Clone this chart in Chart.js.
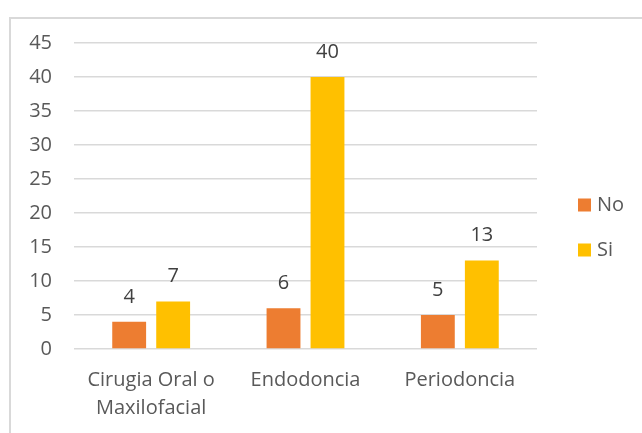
<!DOCTYPE html>
<html>
<head>
<meta charset="utf-8">
<script src="https://cdn.jsdelivr.net/npm/chart.js@4.4.1/dist/chart.umd.min.js"></script>
<style>
  html, body { margin: 0; padding: 0; background: #fff; }
  #wrap { position: relative; width: 642px; height: 433px; }
</style>
</head>
<body>
<div id="wrap"><canvas id="c" width="642" height="433"></canvas></div>
<script>
// Categories, series and axis ticks
const categories = [["Cirugia Oral o", "Maxilofacial"], "Endodoncia", "Periodoncia"];
const seriesNo = [4, 6, 5];
const seriesSi = [7, 40, 13];
const yTicks = [0, 5, 10, 15, 20, 25, 30, 35, 40, 45];

const FONT = "'Open Sans', Lato, sans-serif";
const SIZE = 20;
const TEXT = '#595959';
const GRID = '#d9d9d9';

// Light frame around the whole chart
const framePlugin = {
  id: 'frame',
  beforeDraw(chart) {
    const ctx = chart.ctx;
    ctx.save();
    ctx.fillStyle = '#fff';
    ctx.fillRect(0, 0, chart.width, chart.height);
    ctx.strokeStyle = GRID;
    ctx.lineWidth = 2;
    ctx.strokeRect(10, 18, chart.width + 20, chart.height + 20);
    ctx.restore();
  }
};

// Value labels above each bar
const valueLabels = {
  id: 'valueLabels',
  afterDatasetsDraw(chart) {
    const ctx = chart.ctx;
    ctx.save();
    ctx.font = `${SIZE}px ${FONT}`;
    ctx.fillStyle = '#404040';
    ctx.textAlign = 'center';
    ctx.textBaseline = 'middle';
    chart.data.datasets.forEach((ds, i) => {
      chart.getDatasetMeta(i).data.forEach((bar, j) => {
        ctx.fillText(String(ds.data[j]), bar.x, bar.y - 25);
      });
    });
    ctx.restore();
  }
};

// Legend on the right, stacked vertically
const sideLegend = {
  id: 'sideLegend',
  afterDraw(chart) {
    const ctx = chart.ctx;
    const x = 578, ys = [205, 250], box = 13;
    ctx.save();
    ctx.font = `${SIZE}px ${FONT}`;
    ctx.textBaseline = 'middle';
    chart.data.datasets.forEach((ds, i) => {
      ctx.fillStyle = ds.backgroundColor;
      ctx.fillRect(x, ys[i] - box / 2, box, box);
      ctx.fillStyle = TEXT;
      ctx.fillText(ds.label, x + box + 6, ys[i]);
    });
    ctx.restore();
  }
};

new Chart(document.getElementById('c'), {
  type: 'bar',
  data: {
    labels: categories,
    datasets: [
      { label: 'No', data: seriesNo, backgroundColor: '#ED7D31' },
      { label: 'Si', data: seriesSi, backgroundColor: '#FFC000' }
    ]
  },
  options: {
    responsive: false,
    animation: false,
    layout: { padding: { left: 0, right: 105, top: 43, bottom: 0 } },
    datasets: { bar: { categoryPercentage: 0.57, barPercentage: 0.77 } },
    plugins: { legend: { display: false }, tooltip: { enabled: false } },
    scales: {
      x: {
        grid: { display: false, drawTicks: false },
        border: { display: false },
        ticks: {
          color: TEXT,
          font: { family: FONT, size: SIZE, lineHeight: 1.4 },
          padding: 17,
          maxRotation: 0,
          autoSkip: false
        },
        afterFit(axis) { axis.height = 84; }
      },
      y: {
        min: 0,
        max: 45,
        afterBuildTicks(axis) { axis.ticks = yTicks.map(v => ({ value: v })); },
        grid: { color: GRID, lineWidth: 1.5, drawTicks: false },
        border: { display: false },
        ticks: {
          color: TEXT,
          font: { family: FONT, size: SIZE },
          padding: 22
        },
        afterFit(axis) { axis.width = 74; }
      }
    }
  },
  plugins: [framePlugin, valueLabels, sideLegend]
});
</script>
</body>
</html>
